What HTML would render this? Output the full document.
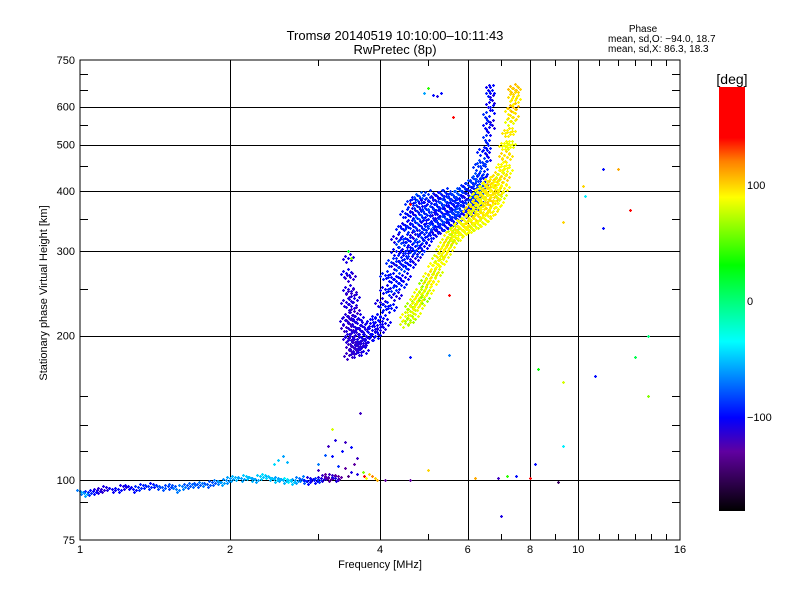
<!DOCTYPE html>
<html><head><meta charset="utf-8">
<style>
body{margin:0;background:#fff;}
svg{display:block;font-family:"Liberation Sans",sans-serif;}
</style></head>
<body>
<svg id="chart" width="800" height="600" viewBox="0 0 800 600">
<defs>
<linearGradient id="cb" x1="0" y1="0" x2="0" y2="1">
<stop offset="0" stop-color="#ff0000"/>
<stop offset="0.12" stop-color="#ff0000"/>
<stop offset="0.175" stop-color="#ff8000"/>
<stop offset="0.26" stop-color="#ffff00"/>
<stop offset="0.42" stop-color="#00ff00"/>
<stop offset="0.60" stop-color="#00ffff"/>
<stop offset="0.78" stop-color="#0000ff"/>
<stop offset="0.86" stop-color="#6000a0"/>
<stop offset="1" stop-color="#000000"/>
</linearGradient>
</defs>
<rect width="800" height="600" fill="#fff"/>
<text x="395" y="40" font-size="13" text-anchor="middle">Tromsø 20140519 10:10:00–10:11:43</text>
<text x="395" y="54" font-size="13" text-anchor="middle">RwPretec (8p)</text>
<text x="643" y="32" font-size="10" text-anchor="middle">Phase</text>
<text x="608" y="42" font-size="10">mean, sd,O: −94.0, 18.7</text>
<text x="608" y="52" font-size="10">mean, sd,X:  86.3, 18.3</text>
<g id="grid"></g>
<g id="marks"></g>
<rect x="80" y="60" width="600" height="480" fill="none" stroke="#000" stroke-width="1"/>
<g id="ticks"></g>
<text x="54" y="300" font-size="11" text-anchor="middle" transform="rotate(-90 47 300)">Stationary phase Virtual Height [km]</text>
<text x="380" y="568" font-size="11" text-anchor="middle">Frequency [MHz]</text>
<rect x="719" y="87" width="26" height="424" fill="url(#cb)"/>
<text x="732" y="84" font-size="14" text-anchor="middle">[deg]</text>
<text x="747" y="189" font-size="11">100</text>
<text x="747" y="305" font-size="11">0</text>
<text x="747" y="421" font-size="11">−100</text>
</svg>
<script>
// ---- axis data ----
const xTickLabels = [1, 2, 4, 6, 8, 10, 16];
const xGridValues = [2, 4, 6, 8, 10];
const yTickLabels = [75, 100, 200, 300, 400, 500, 600, 750];
const yGridValues = [100, 200, 300, 400, 500, 600];
const xMinorTicks = [3, 5, 7, 9, 11, 12, 13, 14, 15];
const yMinorTicks = [90, 115, 130, 150, 250, 350, 450, 550, 650, 700];

// ---- E-layer trace: [freq MHz, height km, phase deg] ----
const eTrace = [
[1.0,95,-70],[1.02,94,-60],[1.04,94.5,-90],[1.06,95,-100],[1.08,95.5,-110],[1.1,96,-115],[1.13,96.5,-110],[1.16,96,-105],[1.19,96,-100],[1.22,97,-110],[1.25,97,-105],[1.28,96,-100],[1.31,96.5,-90],[1.34,97.5,-95],[1.37,97,-90],[1.4,98,-100],[1.43,97,-85],[1.46,96.5,-80],[1.5,97,-85],[1.53,97.5,-80],[1.56,96,-70],[1.6,97,-70],[1.64,97.5,-80],[1.68,98,-75],[1.72,98,-80],[1.76,98.5,-70],[1.8,98,-80],[1.84,99,-80],[1.88,99.5,-70],[1.92,99,-60],[1.96,100,-65],[2.0,101,-60],[2.05,101.5,-55],[2.1,101,-60],[2.15,102,-50],[2.2,101,-55],[2.25,100.5,-60],[2.3,102,-50],[2.35,102.5,-45],[2.4,101.5,-55],[2.45,100.5,-50],[2.5,101,-60],[2.55,100,-55],[2.6,100.5,-40],[2.65,99.5,-50],[2.7,100,-60],[2.75,101,-70],[2.8,100,-80],[2.85,99.5,-100],[2.9,101,-110],[2.95,100,-100],[3.0,100.5,-90],[3.05,101,-110],[3.1,102,-120],[3.15,101,-130],[3.2,102.5,-120],[3.25,101,-110],[3.3,102,-130]
];
// ---- scattered echoes: [freq, height, phase] ----
const scatterPts = [
[2.5,110,-50],[2.55,112,-60],[2.6,109,-55],[2.45,108,-45],[3.0,108,-70],[3.1,113,-80],[3.15,118,-120],[3.2,128,80],[3.25,121,-110],[3.4,120,-120],[3.5,117,-100],[3.6,111,-120],[3.65,138,-120],[3.2,112,-100],[3.3,107,-90],[3.4,106,-130],[3.5,104,-110],[3.7,104,60],[3.8,103,100],[3.85,102,120],[3.9,101,100],[3.75,101,90],[3.6,103,-110],[3.0,105,-120],[3.1,103,-130],[3.3,100,-120],[3.45,102,-140],[2.9,100,-100],[2.8,102,-70],[3.55,108,-130],[3.35,115,-100],[3.72,102,150],[3.95,100,110],[4.1,100,-130],
[4.9,640,-60],[5.1,635,-100],[5.3,640,-100],[5.0,655,40],[5.2,630,-110],[5.6,570,140],[4.6,375,140],[3.5,290,60],[3.45,300,20],
[10.2,410,100],[10.3,390,-40],[11.2,445,-100],[12.0,445,110],[12.7,365,150],[11.2,335,-100],[9.3,345,100],[8.3,170,30],[9.3,160,80],[10.8,165,-100],[13.0,180,10],[13.8,200,0],[13.8,150,60],[9.3,118,-40],[8.2,108,-100],[7.0,84,-110],
[6.2,101,110],[6.9,101,-120],[7.2,102,40],[7.5,102,-100],[8.0,101,140],[9.1,99,-150],[5.0,105,100],[4.6,100,-130],[4.6,180,-100],[5.5,182,-70],[5.5,243,140]
];
// ---- O-mode F cusp: [freq, height, phase] ----
const oCusp = [
[3.45,290,-110],[3.42,270,-105],[3.48,265,-115],[3.45,250,-110],[3.5,245,-118],[3.42,235,-112],[3.5,230,-110],[3.55,225,-118],[3.45,220,-112],[3.52,215,-118],[3.6,212,-110],[3.42,208,-118],[3.5,205,-112],[3.58,203,-118],[3.65,205,-110],[3.45,198,-112],[3.52,196,-118],[3.6,195,-112],[3.68,198,-110],[3.5,190,-118],[3.56,188,-112],[3.62,190,-118],[3.7,193,-110],[3.75,200,-105],[3.8,198,-108],[3.85,205,-105],[3.9,200,-100],[3.95,210,-105],[3.55,188,-118],[3.65,192,-112],[3.48,200,-110],[3.4,215,-112],[3.55,240,-110],[3.62,218,-108],[3.72,208,-110],[3.82,212,-105],[3.9,218,-100],[3.47,182,-118],[3.58,184,-112],[3.7,186,-108]
];
// ---- O-mode main trace: columns by frequency ----
const oFreqs   = [4.0,4.1,4.2,4.3,4.4,4.5,4.6,4.7,4.8,4.9,5.0,5.1,5.2,5.3,5.4,5.5,5.6,5.7,5.8,5.9,6.0,6.1,6.2,6.3,6.4,6.5,6.6,6.7];
const oHeights = [
[205,220,235],[212,230,250,268],[228,248,265,285],[242,260,280,300,320],[255,275,292,312,335],[265,285,300,320,340,360],[280,298,315,335,355,378],[290,308,325,345,365,385],[298,315,332,350,370,390],[308,325,342,360,380],[318,335,350,365,382,395],[325,340,352,368,385],[330,345,358,372,390],[335,348,362,378,395],[338,352,366,382,398],[342,356,370,386],[346,360,375,392],[350,362,378,396],[354,366,382,402],[356,370,388,408],[360,376,392,412],[365,380,398,418],[370,386,404,424],[378,395,412,432,452],[390,410,432,460,485],[420,450,480,510,540,570],[470,500,530,560,600,630,650],[550,590,620,650]
];
const oPhase = [-110,-105,-100,-110,-95,-105,-100,-110,-90,-105,-100,-95,-110,-100,-90,-105,-100,-95,-90,-100,-110,-95,-100,-90,-95,-100,-105,-110];
// ---- X-mode trace: columns by frequency ----
const xFreqs   = [4.5,4.6,4.7,4.8,4.9,5.0,5.1,5.2,5.3,5.4,5.5,5.6,5.7,5.8,5.9,6.0,6.1,6.2,6.3,6.4,6.5,6.6,6.7,6.8,6.9,7.0,7.1,7.2,7.3,7.4,7.45];
const xHeights = [
[212,220],[215,225,232],[222,232,240],[230,240,248],[238,248,258],[248,258,268],[258,270,280],[270,282,292],[285,295,305],[295,305,315],[305,315,325],[315,322,332],[320,330,338],[325,335,345],[330,338,348],[332,340,352,365],[335,345,358,372],[338,350,362,378,390],[342,355,370,385,398],[345,360,378,392,405],[350,368,385,398,412],[355,375,392,405,420],[362,382,400,415],[370,390,405,425],[378,398,415,435],[390,410,430,450],[405,425,450,475,500],[440,470,500,530],[500,530,560,590],[570,600,630,655],[620,650]
];
const xPhase = [80,70,85,85,65,88,90,80,88,85,92,75,88,90,85,88,92,80,90,88,85,92,95,88,90,82,92,88,85,98,92];

// ---- scales ----
function xs(f){ return 80 + 150*Math.log2(f); }
function ys(h){ return 540 - 480*Math.log10(h/75); }
function phaseColor(p){
  const stops=[[-181,[0,0,0]],[-130,[96,0,160]],[-102,[0,0,255]],[-36,[0,255,255]],[30,[0,255,0]],[90,[255,255,0]],[120,[255,128,0]],[140,[255,0,0]],[190,[255,0,0]]];
  for(let i=1;i<stops.length;i++){
    if(p<=stops[i][0]){
      const a=stops[i-1],b=stops[i];const t=Math.max(0,(p-a[0])/(b[0]-a[0]));
      const c=a[1].map((v,k)=>Math.round(v+(b[1][k]-v)*t));
      return 'rgb('+c.join(',')+')';
    }
  }
  return 'rgb(255,0,0)';
}
const NS='http://www.w3.org/2000/svg';
const grid=document.getElementById('grid');
const ticks=document.getElementById('ticks');
const marks=document.getElementById('marks');
function line(parent,x1,y1,x2,y2,name){
  const l=document.createElementNS(NS,'line');
  l.setAttribute('x1',x1);l.setAttribute('y1',y1);l.setAttribute('x2',x2);l.setAttribute('y2',y2);
  l.setAttribute('stroke','#000');l.setAttribute('stroke-width','1');l.setAttribute('shape-rendering','crispEdges');
  
  
  parent.appendChild(l);
}
function text(x,y,s,anchor,name){
  const t=document.createElementNS(NS,'text');
  t.setAttribute('x',x);t.setAttribute('y',y);t.setAttribute('font-size','11');t.setAttribute('text-anchor',anchor);
  t.textContent=s;
  
  
  ticks.appendChild(t);
}
xGridValues.forEach(v=>{const x=Math.round(xs(v))+0.5;line(grid,x,60,x,540,'x-gridline');});
yGridValues.forEach(v=>{const y=Math.round(ys(v))+0.5;line(grid,80,y,680,y,'y-gridline');});
xTickLabels.forEach(v=>{text(xs(v),553,String(v),'middle','x-tick-label');});
yTickLabels.forEach(v=>{text(75,ys(v)+4,String(v),'end','y-tick-label');});
xMinorTicks.forEach(v=>{const x=Math.round(xs(v))+0.5;line(ticks,x,60,x,66,'x-minor-tick');line(ticks,x,540,x,534,'x-minor-tick');});
yMinorTicks.forEach(v=>{const y=Math.round(ys(v))+0.5;line(ticks,80,y,88,y,'y-minor-tick');line(ticks,680,y,672,y,'y-minor-tick');});

// marker cluster offsets (pixel styling, not data)
const denseOff = [[0,0],[3,2],[-3,-2],[2,-4],[-2,4],[5,-1],[-5,1]];
const thinOff = [[0,0],[2,3],[-2,-3],[1,-5]];
const eOff = [[0,0],[3,1],[-3,-1],[1,3]];
const single = [[0,0]];
function plus(f,h,p,name,offs){
  const x0=Math.round(xs(f))+0.5,y0=Math.round(ys(h))+0.5;
  let d='';
  offs.forEach(o=>{const x=x0+o[0],y=y0+o[1];d+='M'+(x-1.5)+' '+y+'h3M'+x+' '+(y-1.5)+'v3';});
  const pa=document.createElementNS(NS,'path');
  pa.setAttribute('d',d);
  pa.setAttribute('stroke',phaseColor(p));pa.setAttribute('stroke-width','1.2');
  
  
  marks.appendChild(pa);
}
eTrace.forEach(d=>plus(d[0],d[1],d[2],'e-layer-point',eOff));
oCusp.forEach(d=>plus(d[0],d[1],d[2],'o-cusp-point',denseOff));
oFreqs.forEach((f,i)=>oHeights[i].forEach((h,j)=>{plus(f,h,oPhase[i]+(j%2?10:0),'o-trace-point',f>=6.5?thinOff:denseOff);}));
xFreqs.forEach((f,i)=>xHeights[i].forEach((h,j)=>{plus(f,h,xPhase[i]+(j%2?8:0),'x-trace-point',denseOff);}));
scatterPts.forEach(d=>plus(d[0],d[1],d[2],'scatter-point',single));
</script>
</body></html>
